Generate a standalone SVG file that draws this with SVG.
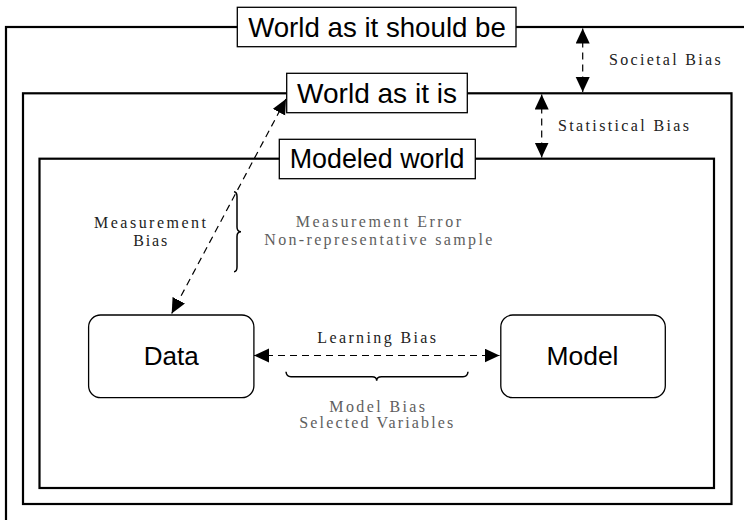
<svg xmlns="http://www.w3.org/2000/svg" width="744" height="520" viewBox="0 0 744 520">
<defs>
<style>
.frame{fill:none;stroke:#000;stroke-width:2.2}
.lbl{fill:#fff;stroke:#000;stroke-width:1.3}
.node{fill:#fff;stroke:#000;stroke-width:1.3}
.sans{font-family:"Liberation Sans",Arial,sans-serif;fill:#000}
.big{font-size:27.5px}
.node-t{font-size:26.5px}
.serif{font-family:"Liberation Serif","Times New Roman",serif;font-size:16px}
.dark{fill:#222}
.grey{fill:#5e5e5e}
.dash{fill:none;stroke:#000;stroke-width:1.2;stroke-dasharray:7 5}
.brace{fill:none;stroke:#000;stroke-width:1.5}
</style>
<marker id="ah" markerUnits="userSpaceOnUse" markerWidth="16" markerHeight="15" refX="15" refY="7" orient="auto-start-reverse" viewBox="0 0 16 15">
<path d="M0,0 L15,7 L0,14 z" fill="#000"/>
</marker>
</defs>
<rect width="744" height="520" fill="#fff"/>

<g id="world-should-be">
<rect class="frame" x="6" y="27" width="760" height="520"/>
<rect class="lbl" x="237.3" y="7.3" width="278.7" height="39.4"/>
<text class="sans big" x="377" y="36.8" text-anchor="middle" textLength="257.7" lengthAdjust="spacingAndGlyphs">World as it should be</text>
</g>

<g id="world-as-it-is">
<rect class="frame" x="23" y="93.3" width="708.5" height="410.7"/>
<rect class="lbl" x="286.7" y="73.3" width="180.6" height="39.4"/>
<text class="sans big" x="377" y="102.5" text-anchor="middle" textLength="160" lengthAdjust="spacingAndGlyphs">World as it is</text>
</g>

<g id="modeled-world">
<rect class="frame" x="39.5" y="158.7" width="674.5" height="329.3"/>
<rect class="lbl" x="279.3" y="139.3" width="196" height="39.4"/>
<text class="sans big" x="377" y="168.3" text-anchor="middle" textLength="174.7" lengthAdjust="spacingAndGlyphs">Modeled world</text>
</g>

<g id="data">
<rect class="node" x="88.6" y="315" width="165.3" height="82.7" rx="12"/>
<text class="sans node-t" x="171.2" y="365" text-anchor="middle" textLength="55" lengthAdjust="spacingAndGlyphs">Data</text>
</g>

<g id="model">
<rect class="node" x="500.8" y="315" width="164.5" height="82.7" rx="12"/>
<text class="sans node-t" x="582.5" y="365" text-anchor="middle" textLength="72" lengthAdjust="spacingAndGlyphs">Model</text>
</g>

<g id="connectors">
<line class="dash" x1="582.7" y1="28.5" x2="582.7" y2="92" marker-start="url(#ah)" marker-end="url(#ah)"/>
<line class="dash" x1="541.7" y1="94.5" x2="541.7" y2="157.5" marker-start="url(#ah)" marker-end="url(#ah)"/>
<line class="dash" x1="286" y1="99" x2="171.7" y2="313.5" marker-start="url(#ah)" marker-end="url(#ah)"/>
<line class="dash" x1="254" y1="355.5" x2="499.5" y2="355.5" marker-start="url(#ah)" marker-end="url(#ah)"/>
<path class="brace" d="M234,191.7 Q237,192 237,196.5 L237,227 Q237,231.7 241,231.7 Q237,231.7 237,236.5 L237,267 Q237,271.5 234,271.7"/>
<path class="brace" d="M286,371.7 Q286.5,376.7 291,376.7 L372,376.7 Q376.7,376.7 376.7,380.7 Q376.7,376.7 381.5,376.7 L463,376.7 Q467.5,376.7 468,371.7"/>
</g>

<g id="labels">
<text class="serif dark" x="609" y="65" textLength="111.7" lengthAdjust="spacing">Societal Bias</text>
<text class="serif dark" x="558" y="131" textLength="131" lengthAdjust="spacing">Statistical Bias</text>
<text class="serif dark" x="94" y="228.3" textLength="112" lengthAdjust="spacing">Measurement</text>
<text class="serif dark" x="133.3" y="246" textLength="34" lengthAdjust="spacing">Bias</text>
<text class="serif grey" x="295.7" y="227.3" textLength="165.3" lengthAdjust="spacing">Measurement Error</text>
<text class="serif grey" x="264.3" y="245" textLength="228" lengthAdjust="spacing">Non-representative sample</text>
<text class="serif dark" x="317.3" y="343.3" textLength="118.7" lengthAdjust="spacing">Learning Bias</text>
<text class="serif grey" x="329.3" y="411.7" textLength="95.7" lengthAdjust="spacing">Model Bias</text>
<text class="serif grey" x="299.3" y="428.3" textLength="154" lengthAdjust="spacing">Selected Variables</text>
</g>
</svg>
